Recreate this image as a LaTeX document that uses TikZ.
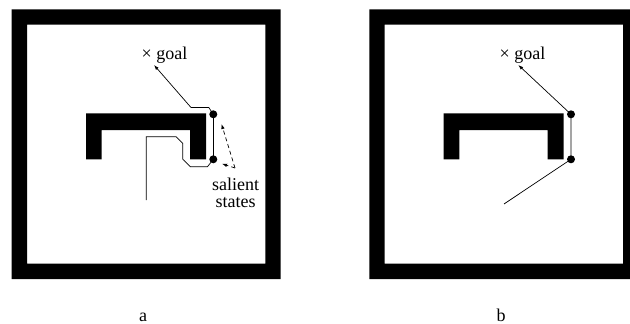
\documentclass[tikz,border=0pt]{standalone}
\usepackage{fontspec}
\setmainfont{Liberation Serif}
\usetikzlibrary{arrows.meta}
\begin{document}
\begin{tikzpicture}[x=1pt,y=-1pt,
  wall/.style={fill=black,even odd rule},
  block/.style={fill=black},
  route/.style={line width=0.7pt},
  dot/.style={circle,fill=black,inner sep=0pt,minimum size=8pt},
  lbl/.style={font=\fontsize{18}{20}\selectfont,inner sep=0pt},
  tip/.style={-{Latex[length=5pt,width=3.5pt]}},
  dtip/.style={dashed,dash pattern=on 4pt off 3pt,line width=0.7pt,-{Latex[length=5pt,width=3.5pt]}}]
\useasboundingbox (0,0) rectangle (630,324);
\clip (0,0) rectangle (630,324);
% ---------- panel a ----------
\fill[wall] (11.7,9.3) rectangle (280.7,279) (27,24.6) rectangle (265.4,263.7);
\fill[block] (86,113.3) -- (206,113.3) -- (206,159.3) -- (190,159.3) -- (190,130)
  -- (101.7,130) -- (101.7,159.3) -- (86,159.3) -- cycle;
\node[dot] (aU) at (213.3,114.3) {};
\node[dot] (aL) at (213.3,159.3) {};
\coordinate (aS) at (146.2,200);
\coordinate (a1) at (146.2,136.7);
\coordinate (a2) at (176.2,136.7);
\coordinate (a3) at (182.8,143.5);
\coordinate (a4) at (182.8,159.3);
\coordinate (a5) at (190.3,166.7);
\coordinate (a6) at (207.5,166.7);
\coordinate (a7) at (208.8,107.5);
\coordinate (a8) at (191,107.5);
\coordinate (aG) at (154,65);
\draw[route] (aS) -- (a1) -- (a2) -- (a3) -- (a4) -- (a5) -- (a6) -- (aL.center);
\draw[route] (aL.center) -- (aU.center);
\draw[route,tip] (aU.center) -- (a7) -- (a8) -- (aG);
\node[lbl,anchor=base west] (goalA) at (141.5,59) {× goal};
\node[lbl,anchor=base] (sal) at (235.5,190) {salient};
\node[lbl,anchor=base] (sta) at (235.5,207.5) {states};
\coordinate (aD) at (235,168);
\draw[dtip] (aD) -- (221.5,124);
\draw[dtip] (aD) -- (222,163.8);
\node[lbl,anchor=base] (labA) at (143,321) {a};
% ---------- panel b ----------
\fill[wall] (369.3,9.3) rectangle (638.3,279) (384.6,24.6) rectangle (623,263.7);
\fill[block] (443.6,113.3) -- (563.6,113.3) -- (563.6,159.3) -- (547.6,159.3) -- (547.6,130)
  -- (459.3,130) -- (459.3,159.3) -- (443.6,159.3) -- cycle;
\node[dot] (bU) at (571,114.3) {};
\node[dot] (bL) at (571,159.3) {};
\coordinate (bS) at (504,204);
\coordinate (bG) at (518.3,65);
\draw[route] (bS) -- (bL.center) -- (bU.center);
\draw[route,tip] (bU.center) -- (bG);
\node[lbl,anchor=base west] (goalB) at (499.5,59) {× goal};
\node[lbl,anchor=base] (labB) at (501,321) {b};
\end{tikzpicture}
\end{document}
